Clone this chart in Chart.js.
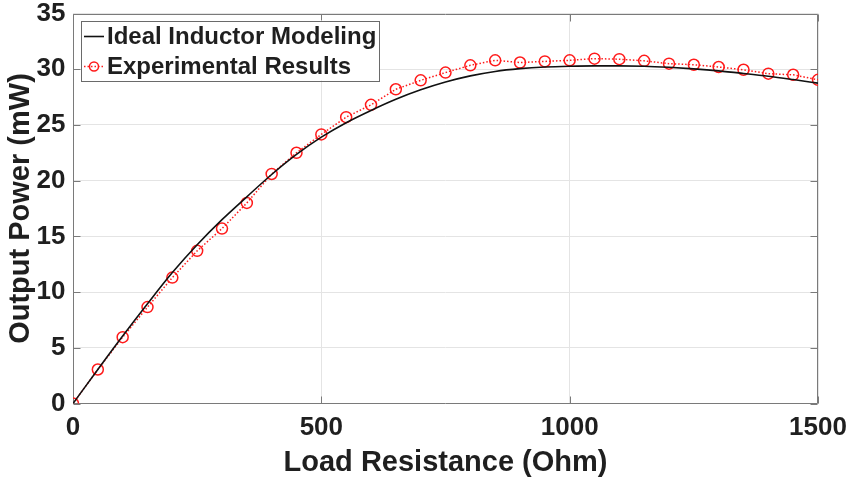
<!DOCTYPE html>
<html>
<head>
<meta charset="utf-8">
<title>Output Power vs Load Resistance</title>
<script src="https://cdn.jsdelivr.net/npm/chart.js@4.4.1/dist/chart.umd.min.js"></script>
<style>
  html, body { margin: 0; padding: 0; background: #ffffff; }
  #wrap { width: 847px; height: 478px; position: relative; }
</style>
</head>
<body>
<div id="wrap"><canvas id="chart" width="847" height="478"></canvas></div>
<script>
// Load resistance sweep (Ohm)
const resistance = [0, 50, 100, 150, 200, 250, 300, 350, 400, 450, 500, 550, 600, 650, 700, 750,
  800, 850, 900, 950, 1000, 1050, 1100, 1150, 1200, 1250, 1300, 1350, 1400, 1450, 1500];

// Ideal inductor model output power (mW)
const modelPower = [0, 3.05, 6.05, 8.95, 11.75, 14.25, 16.5, 18.55, 20.55, 22.35, 23.9, 25.2, 26.3,
  27.3, 28.15, 28.85, 29.4, 29.8, 30.05, 30.2, 30.27, 30.3, 30.3, 30.27, 30.17, 30.03, 29.85,
  29.62, 29.37, 29.07, 28.75];

// Measured output power (mW)
const measuredPower = [0, 3.05, 5.95, 8.65, 11.3, 13.7, 15.7, 18.0, 20.6, 22.5, 24.15, 25.7, 26.8,
  28.2, 29.0, 29.7, 30.35, 30.8, 30.6, 30.7, 30.8, 30.95, 30.9, 30.75, 30.5, 30.4, 30.2, 29.95,
  29.6, 29.5, 29.05];

const seriesNames = ['Ideal Inductor Modeling', 'Experimental Results'];
const xTicks = [0, 500, 1000, 1500];
const yTicks = [0, 5, 10, 15, 20, 25, 30, 35];

const FONT = '"Liberation Sans", Arial, Helvetica, sans-serif';
const TEXT = '#1f1f1f';
const AXIS = '#7a7a7a';
const GRID = '#e4e4e4';
const RED = '#ff1a1a';

const toXY = (vals) => resistance.map((r, i) => ({ x: r, y: vals[i] }));

// Keep the plot area fixed by the layout padding alone
const noLabelPadding = s => {
  s.paddingTop = 0; s.paddingBottom = 0; s.paddingLeft = 0; s.paddingRight = 0;
};

// Box around the plot area with inward tick marks on all four sides
const framePlugin = {
  id: 'frame',
  beforeDatasetsDraw(chart) {
    const { ctx, chartArea: a, scales: { x, y } } = chart;
    const L = Math.round(a.left) + 0.5, R = Math.round(a.right) - 0.5;
    const T = Math.round(a.top) + 0.5, B = Math.round(a.bottom) - 0.5;
    const len = 7;
    ctx.save();
    ctx.strokeStyle = AXIS;
    ctx.lineWidth = 1;
    ctx.beginPath();
    ctx.rect(L, T, R - L, B - T);
    xTicks.forEach(v => {
      const px = Math.round(x.getPixelForValue(v)) + 0.5;
      ctx.moveTo(px, B); ctx.lineTo(px, B - len);
      ctx.moveTo(px, T); ctx.lineTo(px, T + len);
    });
    yTicks.forEach(v => {
      const py = Math.round(y.getPixelForValue(v)) + 0.5;
      ctx.moveTo(L, py); ctx.lineTo(L + len, py);
      ctx.moveTo(R, py); ctx.lineTo(R - len, py);
    });
    ctx.stroke();
    ctx.restore();
  }
};

// Legend box in the upper-left corner of the plot
const legendPlugin = {
  id: 'cornerLegend',
  afterDraw(chart) {
    const { ctx, chartArea: a } = chart;
    const bx = a.left + 8, by = a.top + 7, bw = 298, bh = 60;
    ctx.save();
    ctx.fillStyle = '#ffffff';
    ctx.fillRect(bx, by, bw, bh);
    ctx.strokeStyle = '#6a6a6a';
    ctx.lineWidth = 1;
    ctx.strokeRect(Math.round(bx) + 0.5, Math.round(by) + 0.5, bw, bh);

    const ds = chart.data.datasets;
    const rows = [by + 16, by + 46];
    const x0 = bx + 3, x1 = bx + 23;
    ds.forEach((d, i) => {
      const yy = rows[i];
      ctx.save();
      ctx.strokeStyle = d.borderColor;
      ctx.lineWidth = d.borderWidth;
      ctx.setLineDash(d.borderDash || []);
      ctx.beginPath();
      ctx.moveTo(x0, yy); ctx.lineTo(x1, yy);
      ctx.stroke();
      ctx.restore();
      if (d.pointRadius > 0) {
        ctx.beginPath();
        ctx.strokeStyle = d.pointBorderColor;
        ctx.lineWidth = d.pointBorderWidth;
        ctx.arc((x0 + x1) / 2, yy, 4.5, 0, Math.PI * 2);
        ctx.stroke();
      }
      ctx.fillStyle = TEXT;
      ctx.font = 'bold 24px ' + FONT;
      ctx.textBaseline = 'middle';
      ctx.textAlign = 'left';
      ctx.fillText(seriesNames[i], x1 + 3, yy + 1);
    });
    ctx.restore();
  }
};

new Chart(document.getElementById('chart'), {
  type: 'line',
  data: {
    datasets: [
      {
        label: seriesNames[0],
        data: toXY(modelPower),
        borderColor: '#111111',
        borderWidth: 1.6,
        pointRadius: 0,
        cubicInterpolationMode: 'monotone',
        fill: false
      },
      {
        label: seriesNames[1],
        data: toXY(measuredPower),
        borderColor: RED,
        borderWidth: 1.5,
        borderDash: [1.5, 2],
        pointRadius: 5.5,
        pointBorderWidth: 1.5,
        pointBorderColor: RED,
        pointBackgroundColor: 'rgba(0,0,0,0)',
        fill: false
      }
    ]
  },
  options: {
    responsive: false,
    animation: false,
    events: [],
    layout: { padding: { top: 13.5, right: 29, left: 0, bottom: 0 } },
    plugins: {
      legend: { display: false },
      tooltip: { enabled: false }
    },
    scales: {
      x: {
        type: 'linear',
        min: 0,
        max: 1500,
        afterBuildTicks: s => { s.ticks = xTicks.map(v => ({ value: v })); },
        afterFit: s => { s.height = 74.5; noLabelPadding(s); },
        grid: { color: GRID, drawTicks: false },
        border: { display: false },
        ticks: {
          color: TEXT,
          padding: 11,
          maxRotation: 0,
          callback: v => String(v),
          font: { family: FONT, size: 26, weight: 'bold', lineHeight: 1 }
        },
        title: {
          display: true,
          text: 'Load Resistance (Ohm)',
          color: TEXT,
          padding: { top: 0, bottom: 1 },
          font: { family: FONT, size: 29, weight: 'bold', lineHeight: 1 }
        }
      },
      y: {
        type: 'linear',
        min: 0,
        max: 35,
        afterBuildTicks: s => { s.ticks = yTicks.map(v => ({ value: v })); },
        afterFit: s => { s.width = 73; noLabelPadding(s); },
        grid: { color: GRID, drawTicks: false },
        border: { display: false },
        ticks: {
          color: TEXT,
          padding: 7.5,
          callback: v => String(v),
          font: { family: FONT, size: 26, weight: 'bold', lineHeight: 1 }
        },
        title: {
          display: true,
          text: 'Output Power (mW)',
          color: TEXT,
          padding: { top: 4, bottom: 0 },
          font: { family: FONT, size: 29, weight: 'bold', lineHeight: 1.2 }
        }
      }
    }
  },
  plugins: [framePlugin, legendPlugin]
});
</script>
</body>
</html>
